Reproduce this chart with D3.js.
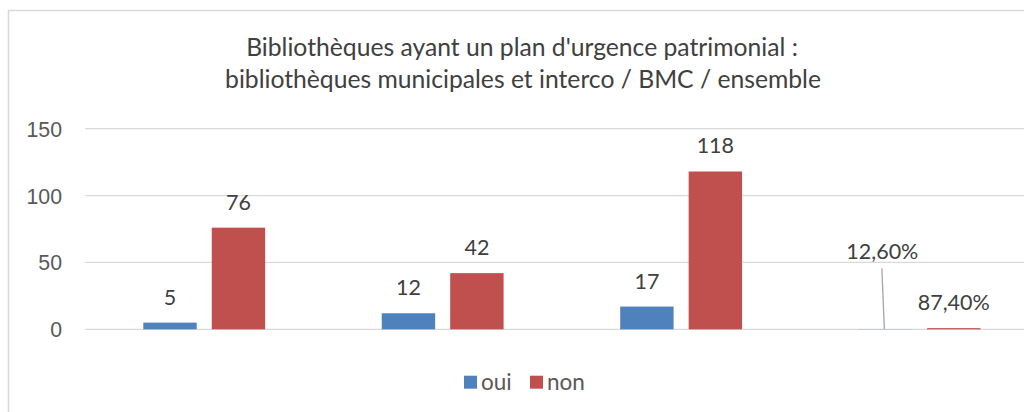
<!DOCTYPE html>
<html>
<head>
<meta charset="utf-8">
<script src="https://cdn.jsdelivr.net/npm/d3@7"></script>
<style>
  body { margin: 0; background: #fff; }
  svg { display: block; font-family: Lato, "Open Sans", sans-serif; }
  .axis text { fill: #595959; font-size: 21.3px; }
  .axis path, .axis line { display: none; }
  .grid line { stroke: #d9d9d9; stroke-width: 1.3; }
</style>
</head>
<body>
<script>
// Données
var categories = ["bibliothèques municipales et interco", "BMC", "ensemble", "ensemble (%)"];
var series = ["oui", "non"];
var oui = [5, 12, 17, 0.126];
var non = [76, 42, 118, 0.874];
var labelsOui = ["5", "12", "17", "12,60%"];
var labelsNon = ["76", "42", "118", "87,40%"];
var yTicks = [0, 50, 100, 150];
var colors = ["#4f81bd", "#c0504d"];

var width = 1024, height = 412;

var svg = d3.select("body").append("svg")
    .attr("width", width)
    .attr("height", height);

// cadre du graphique (déborde à droite et en bas)
svg.append("rect")
    .attr("x", 8.5).attr("y", 10.5)
    .attr("width", 1100).attr("height", 500)
    .attr("fill", "none")
    .attr("stroke", "#d9d9d9")
    .attr("stroke-width", 1.5);

// titre
var title = svg.append("text")
    .attr("text-anchor", "middle")
    .attr("fill", "#404040")
    .style("font-size", "24.7px");
title.append("tspan").attr("x", 522).attr("y", 56)
    .text("Bibliothèques ayant un plan d'urgence patrimonial :");
title.append("tspan").attr("x", 523).attr("y", 88)
    .text("bibliothèques municipales et interco / BMC / ensemble");

// échelles
var x0 = d3.scaleBand().domain(categories).range([85, 1038.8]).padding(0);
var bw = x0.bandwidth();
var x1 = d3.scaleBand().domain(series)
    .range([0.2445 * bw, 0.7555 * bw])
    .paddingInner(0.22);
var y = d3.scaleLinear().domain([0, 150]).range([329.3, 128.7]);

// grille
svg.append("g")
    .attr("class", "grid")
    .selectAll("line")
    .data(yTicks)
    .enter().append("line")
    .attr("x1", 85).attr("x2", width)
    .attr("y1", function(d) { return y(d); })
    .attr("y2", function(d) { return y(d); });

// axe Y
svg.append("g")
    .attr("class", "axis")
    .attr("transform", "translate(62,0)")
    .call(d3.axisLeft(y).tickValues(yTicks).tickSize(0).tickPadding(0))
    .selectAll("text").attr("dy", "0.35em");

// barres
var data = categories.map(function(c, i) {
  return [
    {cat: c, s: "oui", v: oui[i], lab: labelsOui[i], col: colors[0]},
    {cat: c, s: "non", v: non[i], lab: labelsNon[i], col: colors[1]}
  ];
});

var groups = svg.selectAll(".grp")
    .data(data)
    .enter().append("g")
    .attr("class", "grp")
    .attr("transform", function(d) { return "translate(" + x0(d[0].cat) + ",0)"; });

groups.selectAll("rect")
    .data(function(d) { return d; })
    .enter().append("rect")
    .attr("x", function(d) { return x1(d.s); })
    .attr("width", x1.bandwidth())
    .attr("y", function(d) { return y(d.v); })
    .attr("height", function(d) { return y(0) - y(d.v); })
    .attr("fill", function(d) { return d.col; });

// étiquettes de données
groups.selectAll("text")
    .data(function(d) { return d; })
    .enter().append("text")
    .attr("text-anchor", "middle")
    .attr("fill", "#404040")
    .style("font-size", "21.5px")
    .attr("x", function(d, i) {
      var cx = x1(d.s) + x1.bandwidth() / 2;
      if (d.cat === "ensemble (%)" && d.s === "oui") cx -= 3;
      return cx;
    })
    .attr("y", function(d) {
      if (d.cat === "ensemble (%)" && d.s === "oui") return y(0) - 70;
      return y(d.v) - 18;
    })
    .text(function(d) { return d.lab; });

// ligne de repère pour 12,60%
var g4 = categories[3];
svg.append("line")
    .attr("x1", x0(g4) + x1("oui") + x1.bandwidth() / 2 - 3.5)
    .attr("y1", y(0) - 61)
    .attr("x2", x0(g4) + x1("oui") + x1.bandwidth() / 2 - 1)
    .attr("y2", y(oui[3]))
    .attr("stroke", "#a6a6a6")
    .attr("stroke-width", 1.3);

// légende
var legend = svg.append("g").attr("class", "legend");
var legX = [464, 530];
series.forEach(function(s, i) {
  legend.append("rect")
    .attr("x", legX[i]).attr("y", 375.7)
    .attr("width", 13).attr("height", 13)
    .attr("fill", colors[i]);
  legend.append("text")
    .attr("x", legX[i] + 17).attr("y", 382)
    .attr("dy", "0.35em")
    .attr("fill", "#595959")
    .style("font-size", "22.5px")
    .text(s);
});
</script>
</body>
</html>
